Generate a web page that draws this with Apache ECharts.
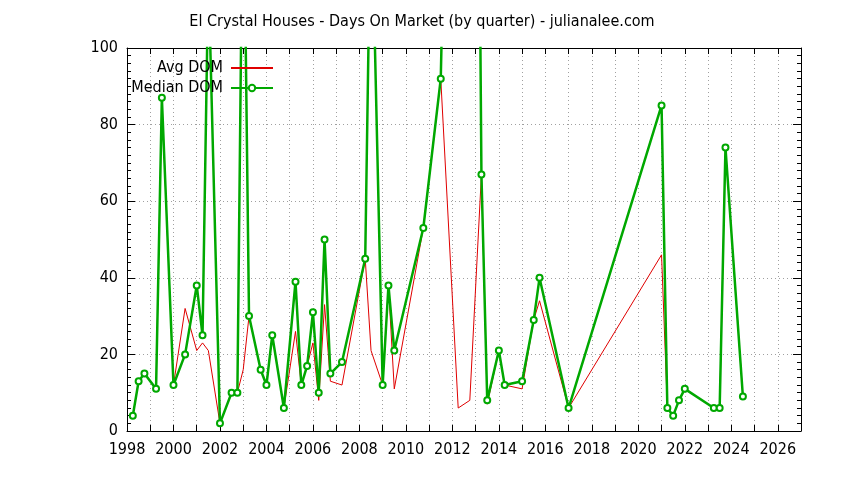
<!DOCTYPE html>
<html lang="en">
<head>
    <meta charset="UTF-8">
    <title>El Crystal Houses - Days On Market</title>
    <style>
        *{
            margin: 0;
            padding: 0;
        }
        body{
            background: #fff;
        }
        .box{
            width: 844px;
            height: 480px;
        }
    </style>
    <script src="https://cdn.jsdelivr.net/npm/echarts@6/dist/echarts.min.js"></script>
</head>
<body>
    <div class="box" id="box"></div>
    <script>
        // quarter start as decimal year
        var quarters = [1998.25, 1998.5, 1998.75, 1999.25, 1999.5, 2000.0, 2000.5, 2001.0, 2001.25, 2001.5,
            2002.0, 2002.5, 2002.75, 2003.0, 2003.25, 2003.75, 2004.0, 2004.25, 2004.75, 2005.25,
            2005.5, 2005.75, 2006.0, 2006.25, 2006.5, 2006.75, 2007.25, 2008.25, 2008.5, 2009.0,
            2009.25, 2009.5, 2010.75, 2011.5, 2012.25, 2012.75, 2013.25, 2013.5, 2014.0, 2014.25,
            2015.0, 2015.5, 2015.75, 2017.0, 2021.0, 2021.25, 2021.5, 2021.75, 2022.0, 2023.25,
            2023.5, 2023.75, 2024.5];
        var avgDom = [4, 13, 15, 11, 87, 12, 32, 21, 23, 21,
            2, 10, 10, 16, 30, 16, 12, 25, 6, 26,
            12, 17, 23, 8, 33, 13, 12, 45, 21, 12,
            38, 11, 53, 92, 6, 8, 67, 7, 21, 12,
            11, 29, 34, 6, 46, 6, 4, 8, 11, 6,
            6, 74, 9];
        var medianDom = [4, 13, 15, 11, 87, 12, 20, 38, 25, 120,
            2, 10, 10, 155, 30, 16, 12, 25, 6, 39,
            12, 17, 31, 10, 50, 15, 18, 45, 145, 12,
            38, 21, 53, 92, 300, 450, 67, 8, 21, 12,
            13, 29, 40, 6, 85, 6, 4, 8, 11, 6,
            6, 74, 9];
        var yearTicks = [1998, 2027];
        var domTicks = [0, 100];

        var font = "'DejaVu Sans Condensed', 'DejaVu Sans', sans-serif";

        function pairs(xs, ys){
            var out = [];
            for(var i = 0; i < xs.length; i++){
                out.push([xs[i], ys[i]]);
            }
            return out;
        }

        var dotted = { show: true, lineStyle: { color: '#a0a0a0', type: [1, 3], width: 1 } };

        function xAx(pos, labels){
            return {
                type: 'value', position: pos,
                min: yearTicks[0], max: yearTicks[1], interval: 2,
                axisLine: { show: true, onZero: false, lineStyle: { color: '#000' } },
                axisTick: { show: true, inside: true, length: 6, lineStyle: { color: '#000' } },
                minorTick: { show: true, splitNumber: 2, length: 6, lineStyle: { color: '#000' } },
                axisLabel: {
                    show: labels, margin: 11, color: '#000', fontFamily: font, fontSize: 16, showMaxLabel: false,
                    formatter: function(v){ return String(v); }
                },
                splitLine: labels ? dotted : { show: false },
                minorSplitLine: labels ? dotted : { show: false }
            };
        }
        function yAx(pos, labels){
            return {
                type: 'value', position: pos,
                min: domTicks[0], max: domTicks[1], interval: 20,
                axisLine: { show: true, onZero: false, lineStyle: { color: '#000' } },
                axisTick: { show: true, inside: true, length: 8, lineStyle: { color: '#000' } },
                minorTick: { show: true, splitNumber: 10, length: 4, lineStyle: { color: '#000' } },
                axisLabel: { show: labels, margin: 9, color: '#000', fontFamily: font, fontSize: 16 },
                splitLine: labels ? dotted : { show: false }
            };
        }

        var myChart = echarts.init(document.getElementById('box'));
        var option = {
            animation: false,
            backgroundColor: '#fff',
            title: {
                text: 'El Crystal Houses - Days On Market (by quarter) - julianalee.com',
                left: 'center', top: 9,
                textStyle: { fontFamily: font, fontSize: 16, fontWeight: 'normal', color: '#000' }
            },
            legend: {
                orient: 'vertical', align: 'right',
                right: 565, top: 55,
                itemWidth: 42, itemHeight: 8, itemGap: 4,
                textStyle: { fontFamily: font, fontSize: 16, color: '#000', padding: [0, 3, 0, 0] },
                data: [
                    { name: 'Avg DOM', itemStyle: { opacity: 0 } },
                    { name: 'Median DOM' }
                ]
            },
            grid: { left: 127, right: 43, top: 48, bottom: 49 },
            xAxis: [xAx('bottom', true), xAx('top', false)],
            yAxis: [yAx('left', true), yAx('right', false)],
            series: [
                {
                    name: 'Avg DOM', type: 'line',
                    symbol: 'none',
                    lineStyle: { color: '#e00000', width: 1 },
                    itemStyle: { color: '#e00000' },
                    data: pairs(quarters, avgDom)
                },
                {
                    name: 'Median DOM', type: 'line',
                    symbol: 'emptyCircle', symbolSize: 6,
                    lineStyle: { color: '#00a800', width: 2.5 },
                    itemStyle: { color: '#00a800', borderWidth: 2 },
                    data: pairs(quarters, medianDom)
                }
            ]
        };
        myChart.setOption(option);
    </script>
</body>
</html>
